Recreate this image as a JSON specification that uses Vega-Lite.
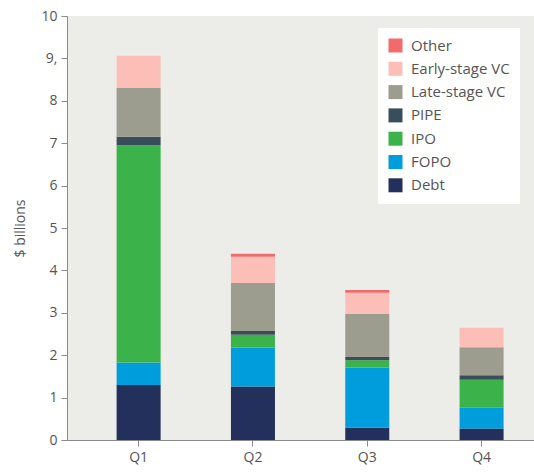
{
  "$schema": "https://vega.github.io/schema/vega-lite/v6.json",
  "autosize": "none",
  "width": 467,
  "height": 424,
  "padding": {"left": 67, "top": 16, "right": 0, "bottom": 35},
  "background": "white",
  "config": {
    "view": {"fill": "#ececE8", "stroke": null},
    "font": "Open Sans",
    "axis": {"labelFont": "Open Sans", "titleFont": "Open Sans", "labelColor": "#555555", "titleColor": "#555555", "labelFontSize": 14, "titleFontSize": 14, "titleFontWeight": "normal", "domainColor": "#8a8a8a", "tickColor": "#8a8a8a", "tickSize": 6, "grid": false}
  },
  "data": {
    "values": [
      {"quarter": "Q1", "type": "Debt", "rank": 1, "value": 1.30},
      {"quarter": "Q1", "type": "FOPO", "rank": 2, "value": 0.53},
      {"quarter": "Q1", "type": "IPO", "rank": 3, "value": 5.12},
      {"quarter": "Q1", "type": "PIPE", "rank": 4, "value": 0.20},
      {"quarter": "Q1", "type": "Late-stage VC", "rank": 5, "value": 1.15},
      {"quarter": "Q1", "type": "Early-stage VC", "rank": 6, "value": 0.76},
      {"quarter": "Q1", "type": "Other", "rank": 7, "value": 0.0},
      {"quarter": "Q2", "type": "Debt", "rank": 1, "value": 1.26},
      {"quarter": "Q2", "type": "FOPO", "rank": 2, "value": 0.92},
      {"quarter": "Q2", "type": "IPO", "rank": 3, "value": 0.30},
      {"quarter": "Q2", "type": "PIPE", "rank": 4, "value": 0.09},
      {"quarter": "Q2", "type": "Late-stage VC", "rank": 5, "value": 1.13},
      {"quarter": "Q2", "type": "Early-stage VC", "rank": 6, "value": 0.62},
      {"quarter": "Q2", "type": "Other", "rank": 7, "value": 0.07},
      {"quarter": "Q3", "type": "Debt", "rank": 1, "value": 0.29},
      {"quarter": "Q3", "type": "FOPO", "rank": 2, "value": 1.42},
      {"quarter": "Q3", "type": "IPO", "rank": 3, "value": 0.17},
      {"quarter": "Q3", "type": "PIPE", "rank": 4, "value": 0.08},
      {"quarter": "Q3", "type": "Late-stage VC", "rank": 5, "value": 1.01},
      {"quarter": "Q3", "type": "Early-stage VC", "rank": 6, "value": 0.50},
      {"quarter": "Q3", "type": "Other", "rank": 7, "value": 0.07},
      {"quarter": "Q4", "type": "Debt", "rank": 1, "value": 0.27},
      {"quarter": "Q4", "type": "FOPO", "rank": 2, "value": 0.49},
      {"quarter": "Q4", "type": "IPO", "rank": 3, "value": 0.66},
      {"quarter": "Q4", "type": "PIPE", "rank": 4, "value": 0.11},
      {"quarter": "Q4", "type": "Late-stage VC", "rank": 5, "value": 0.66},
      {"quarter": "Q4", "type": "Early-stage VC", "rank": 6, "value": 0.46},
      {"quarter": "Q4", "type": "Other", "rank": 7, "value": 0.0}
    ]
  },
  "mark": {"type": "bar"},
  "encoding": {
    "x": {
      "field": "quarter", "type": "nominal", "title": null,
      "scale": {"paddingInner": 0.615, "paddingOuter": 0.35, "align": 0.62},
      "axis": {"labelAngle": 0, "labelPadding": 4}
    },
    "y": {
      "field": "value", "type": "quantitative", "stack": "zero",
      "title": "$ billions",
      "scale": {"domain": [0, 10], "nice": false},
      "axis": {"values": [0,1,2,3,4,5,6,7,8,9,10], "labelExpr": "datum.value == 9 ? '9,' : datum.label", "titlePadding": 13, "labelPadding": 4}
    },
    "color": {
      "field": "type", "type": "nominal",
      "scale": {
        "domain": ["Other", "Early-stage VC", "Late-stage VC", "PIPE", "IPO", "FOPO", "Debt"],
        "range": ["#f26b6b", "#fbbfb8", "#9c9d8f", "#3a4d5a", "#3bb34a", "#009ddc", "#22305b"]
      },
      "legend": {
        "title": null, "orient": "none", "legendX": 311, "legendY": 12,
        "fillColor": "white", "padding": 10, "symbolType": "square", "symbolSize": 196,
        "symbolStrokeWidth": 0, "labelFont": "Open Sans", "labelFontSize": 15, "labelColor": "#555555",
        "rowPadding": 7.3, "labelOffset": 8, "symbolOpacity": 1
      }
    },
    "order": {"field": "rank", "type": "quantitative"}
  }
}
